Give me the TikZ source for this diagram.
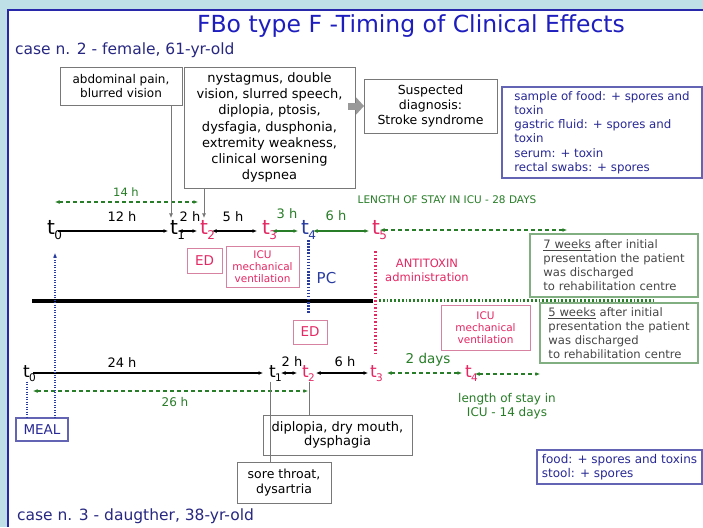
\documentclass[tikz,border=0pt]{standalone}
\usepackage{fontspec}
\setmainfont{DejaVu Sans}
\usetikzlibrary{arrows.meta}
\newcommand\fsz[2]{\fontsize{#1}{#2}\selectfont}
\newcommand\subU[1]{\kern-0.5pt\raisebox{-5pt}{\fsz{12}{12}#1}}
\newcommand\subL[1]{\kern-0.5pt\raisebox{-4.5pt}{\fsz{10.5}{10.5}#1}}
\definecolor{outerbg}{RGB}{190,224,230}
\definecolor{panelblue}{RGB}{40,40,170}
\definecolor{titleblue}{RGB}{30,30,190}
\definecolor{navy}{RGB}{40,40,130}
\definecolor{pinkred}{RGB}{228,40,100}
\definecolor{pinkbox}{RGB}{215,130,160}
\definecolor{dgreen}{RGB}{40,125,40}
\definecolor{gboxline}{RGB}{130,175,130}
\definecolor{graybox}{RGB}{120,120,120}
\definecolor{bboxline}{RGB}{100,100,180}
\definecolor{btext}{RGB}{40,40,150}
\definecolor{tblue}{RGB}{40,60,160}
\definecolor{gtext}{RGB}{70,70,70}
\begin{document}
\begin{tikzpicture}[x=1pt,y=-1pt,
  every node/.style={inner sep=0pt,outer sep=0pt},
  gbox/.style={draw=graybox,fill=white,line width=0.8pt,align=center,text=black},
  pbox/.style={draw=pinkbox,fill=white,line width=1pt,align=center,text=pinkred},
  grbox/.style={draw=gboxline,fill=white,line width=1.1pt,align=left,text=gtext},
  bbox/.style={draw=bboxline,fill=white,line width=1.1pt,align=left,text=btext},
  mbox/.style={draw=bboxline,fill=white,line width=1.4pt,align=center,text=btext},
  tup/.style={anchor=base west,font=\fsz{20}{20}},
  tlo/.style={anchor=base west,font=\fsz{17}{17}},
  ar/.style={-{Latex[length=4.5pt,width=4pt]}},
  lr/.style={{Latex[length=4.5pt,width=4pt]}-{Latex[length=4.5pt,width=4pt]}},
  blk/.style={line width=1.4pt,black},
  grn/.style={line width=1.4pt,dgreen},
  gdash/.style={line width=1.5pt,dgreen,dash pattern=on 4pt off 3pt},
  gline/.style={line width=0.7pt,draw=graybox},
  bdot/.style={line width=1.1pt,draw=tblue,dash pattern=on 1pt off 1.5pt},
  fatarrow/.style={draw=gray!80,line width=7pt,-{Triangle[length=8pt,width=17pt]}},
  lab/.style={font=\fsz{13}{14}},
  glab/.style={font=\fsz{13}{14},text=dgreen}]
\useasboundingbox (0,0) rectangle (703,527);
\fill[outerbg] (0,0) rectangle (703,527);
\fill[white] (8,10) rectangle (703,527);
\draw[panelblue,line width=1.3pt] (8,527) -- (8,10) -- (703,10);

% titles
\node[font=\fsz{23.5}{26},text=titleblue] (title) at (411,26) {FBo type F -Timing of Clinical Effects};
\node[font=\fsz{15.5}{18},text=navy,anchor=west] (case2) at (15,50) {case n. 2 - female, 61-yr-old};
\node[font=\fsz{15.5}{18},text=navy,anchor=west] (case3) at (17,516) {case n. 3 - daugther, 38-yr-old};

% boxes
\node[gbox,minimum width=122pt,minimum height=38pt,font=\fsz{12}{13.5}] (abd) at (121,86) {abdominal pain,\\blurred vision};
\node[gbox,minimum width=171pt,minimum height=121pt,font=\fsz{13}{16.2}] (big) at (269.5,127.5) {nystagmus, double\\vision, slurred speech,\\diplopia, ptosis,\\dysfagia, dusphonia,\\extremity weakness,\\clinical worsening\\dyspnea};
\node[gbox,minimum width=133pt,minimum height=54pt,font=\fsz{12.5}{15}] (susp) at (430.5,106) {Suspected\\diagnosis:\\Stroke syndrome};
\node[bbox,minimum width=200pt,minimum height=91pt,font=\fsz{11.8}{14.2}] (lab1) at (602,132.5) {sample of food: + spores and\\toxin\\gastric fluid: + spores and\\toxin\\serum: + toxin\\rectal swabs: + spores};
\node[grbox,minimum width=168pt,minimum height=63pt,font=\fsz{11.6}{14}] (w7) at (614,265.5) {\underline{7 weeks} after initial\\presentation the patient\\was discharged\\to rehabilitation centre};
\node[grbox,minimum width=158pt,minimum height=60pt,font=\fsz{11.6}{14}] (w5) at (619,333) {\underline{5 weeks} after initial\\presentation the patient\\was discharged\\to rehabilitation centre};
\node[pbox,minimum width=35pt,minimum height=25pt,font=\fsz{13.5}{14}] (ed1) at (204.5,260.5) {ED};
\node[pbox,minimum width=73pt,minimum height=41pt,font=\fsz{10.5}{12}] (icu1) at (262.5,266.5) {ICU\\mechanical\\ventilation};
\node[pbox,minimum width=34pt,minimum height=24pt,font=\fsz{13.5}{14}] (ed2) at (310,332) {ED};
\node[pbox,minimum width=89pt,minimum height=45pt,font=\fsz{10.5}{12}] (icu2) at (485.5,327.5) {ICU\\mechanical\\ventilation};
\node[mbox,minimum width=52pt,minimum height=23pt,font=\fsz{13.5}{14}] (meal) at (42,429.5) {MEAL};
\node[gbox,fill=none,minimum width=149pt,minimum height=40pt,font=\fsz{13}{14.5}] (dip) at (337.5,435) {diplopia, dry mouth,\\dysphagia};
\node[gbox,minimum width=94pt,minimum height=41pt,font=\fsz{12.5}{14.5}] (sore) at (284,482.5) {sore throat,\\dysartria};
\node[bbox,minimum width=165pt,minimum height=34pt,font=\fsz{12}{14}] (food) at (619.5,467) {food: + spores and toxins\\stool: + spores};

\draw[fatarrow] ([xshift=-7pt]big.east |- susp.west) -- (susp.west);

% upper timeline
\node[tup] (u0) at (47,234) {t\subU{0}};
\node[tup] (u1) at (170,234) {t\subU{1}};
\node[tup,text=pinkred] (u2) at (200,234) {t\subU{2}};
\node[tup,text=pinkred] (u3) at (262,234) {t\subU{3}};
\node[tup,text=tblue] (u4) at (301,234) {t\subU{4}};
\node[tup,text=pinkred] (u5) at (372,234) {t\subU{5}};
\coordinate (u5end) at (567,230);

\draw[blk,ar] ([xshift=11pt,yshift=3pt]u0.base west) -- ([xshift=-2pt,yshift=3pt]u1.base west);
\draw[blk,lr] ([xshift=8pt,yshift=3pt]u1.base west) -- ([xshift=-3pt,yshift=3pt]u2.base west);
\draw[blk,lr] ([xshift=12pt,yshift=3pt]u2.base west) -- ([xshift=-5pt,yshift=3pt]u3.base west);
\draw[grn,lr] ([xshift=10pt,yshift=3pt]u3.base west) -- ([xshift=-3pt,yshift=3pt]u4.base west);
\draw[grn,lr] ([xshift=12pt,yshift=3pt]u4.base west) -- ([xshift=-3pt,yshift=3pt]u5.base west);
\draw[gdash,lr] ([xshift=8pt,yshift=4pt]u5.base west) -- (u5end);

\coordinate (d14a) at (55,202);
\coordinate (d14b) at (198,202);
\draw[gdash,lr] (d14a) -- (d14b);

\draw[gline,ar] ([xshift=1pt]u1.north west |- abd.south) -- ([xshift=1pt,yshift=2pt]u1.north west);
\draw[gline,ar] ([xshift=4pt]u2.north west |- big.south) -- ([xshift=4pt,yshift=2pt]u2.north west);

\node[lab] (h12) at (122,217) {12 h};
\node[lab] (h2a) at (190,217) {2 h};
\node[lab] (h5) at (233,217) {5 h};
\node[glab] (h3) at (287,214) {3 h};
\node[glab] (h6a) at (336,216) {6 h};
\node[glab,font=\fsz{11.5}{12}] (h14) at (126,192) {14 h};
\node[glab,font=\fsz{10.5}{12}] (len28) at (447,200) {LENGTH OF STAY IN ICU - 28 DAYS};

% middle
\coordinate (hl) at (32,301);
\coordinate (hr) at (373,301);
\coordinate (gl) at (379,300);
\coordinate (gr) at (655,300);
\draw[line width=4pt,black] (hl) -- (hr);
\draw[line width=3pt,dgreen,dash pattern=on 1.8pt off 2pt] (gl) -- (gr);
\draw[line width=3pt,tblue,dash pattern=on 1.5pt off 1.6pt,shorten <=1pt,shorten >=7pt] ([xshift=7pt]u4.south west) -- ([xshift=7pt]u4.south west |- ed2.north);
\node[font=\fsz{15}{16},text=tblue] (pc) at (326.5,278) {PC};

% lower timeline
\node[tlo] (l0) at (23,377) {t\subL{0}};
\node[tlo] (l1) at (269,377) {t\subL{1}};
\node[tlo,text=pinkred] (l2) at (302,377) {t\subL{2}};
\node[tlo,text=pinkred] (l3) at (370,377) {t\subL{3}};
\node[tlo,text=pinkred] (l4) at (465,377) {t\subL{4}};
\coordinate (l4end) at (540,374);

\draw[line width=3pt,pinkred,dash pattern=on 1.5pt off 2pt,shorten <=12pt,shorten >=10pt] ([xshift=3pt]u5.south west) -- ([xshift=5pt]l3.north west);
\node[font=\fsz{11.5}{14},text=pinkred,align=center] (anti) at (427,270) {ANTITOXIN\\administration};

\draw[blk,ar] ([xshift=10pt,yshift=4pt]l0.base west) -- ([xshift=-6pt,yshift=4pt]l1.base west);
\draw[blk,lr] ([xshift=12pt,yshift=4pt]l1.base west) -- ([xshift=-5pt,yshift=4pt]l2.base west);
\draw[blk,lr] ([xshift=14pt,yshift=4pt]l2.base west) -- ([xshift=-2pt,yshift=4pt]l3.base west);
\draw[gdash,lr] ([xshift=17pt,yshift=4pt]l3.base west) -- ([xshift=-3pt,yshift=4pt]l4.base west);
\draw[gdash,lr] ([xshift=10pt,yshift=3pt]l4.base west) -- (l4end);

\coordinate (d26a) at (33,391);
\coordinate (d26b) at (308,391);
\draw[gdash,lr] (d26a) -- (d26b);

\node[lab] (h24) at (122,363) {24 h};
\node[lab] (h2b) at (292,362) {2 h};
\node[lab] (h6b) at (345,362) {6 h};
\node[glab,font=\fsz{12}{13}] (h26) at (175,402) {26 h};
\node[glab,font=\fsz{13.5}{14}] (days2) at (428,360) {2 days};
\node[glab,font=\fsz{12}{13.5},align=center] (len14) at (507,406) {length of stay in\\ICU - 14 days};

\draw[gline] ([xshift=1pt]l1.south west) -- ([xshift=1pt]l1.south west |- sore.north);
\draw[gline] ([xshift=7pt]l2.south west) -- ([xshift=7pt]l2.south west |- dip.north);

\coordinate (mealtip) at (55,253);
\draw[bdot,ar] ([xshift=39pt]meal.north west) -- (mealtip);
\draw[bdot] ([xshift=4pt]l0.south west) -- ([xshift=4pt]l0.south west |- meal.north);
\end{tikzpicture}
\end{document}
